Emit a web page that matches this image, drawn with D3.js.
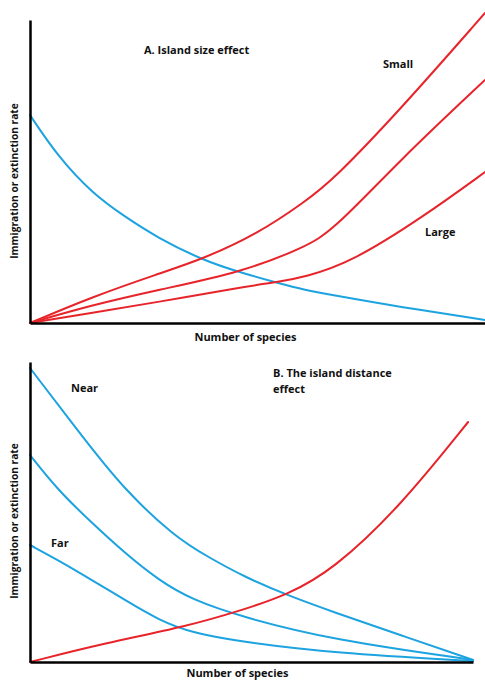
<!DOCTYPE html>
<html><head><meta charset="utf-8">
<script src="https://cdn.jsdelivr.net/npm/d3@7"></script>
<style>
body{margin:0;background:#fff;}
text{font-family:"Open Sans",sans-serif;font-weight:700;font-size:11px;fill:#111;}
text.yt{font-size:10.2px;}
</style></head>
<body><svg id="c" width="485" height="682"></svg>
<script>
// Panel A: island size effect (x: number of species 0-100, y: rate 0-100)
const aImmigration = [[0,68.6],[6.2,54.8],[13.6,42.9],[20.9,35],[28.1,28.1],[37.8,20.8],[46.6,16.5],[54.5,13.2],[60.4,10.9],[66.6,9.2],[81.3,5.3],[100,1]];
const aExtSmall = [[0,0],[13.6,8.6],[28.1,16.2],[37.8,21],[50.1,29.5],[60.4,40],[66.6,47.2],[81.3,70.3],[100,102.3]];
const aExtMid = [[0,0],[13.6,5.9],[28.1,10.9],[46.6,16.8],[60.4,25],[66.6,30.5],[81.3,53.8],[100,80.2]];
const aExtLarge = [[0,0],[13.6,3.3],[28.1,6.9],[46.6,11.9],[54.5,13.5],[60.4,15.2],[70.3,19.8],[86.4,35],[100,49.8]];
// Panel B: island distance effect
const bImmNear = [[0,98],[12.4,74],[21.4,57.3],[32.7,41.7],[40.2,35],[48.5,28.3],[58,22.3],[68.4,16.7],[83.5,9.0],[100,0.7]];
const bImmMid = [[0,69],[6.3,57.3],[14,46.3],[21.4,36.3],[29,27.3],[36.6,20.7],[47.9,15],[68.4,7.3],[100,0.7]];
const bImmFar = [[0,39],[6.3,34],[14,27.3],[21.4,20.7],[29,14],[36.6,9.7],[47.9,6.7],[68.4,3],[100,0.3]];
const bExtinction = [[0,0],[16.9,6.3],[35,11.7],[47.9,17.3],[58,22.3],[68.4,30.7],[83.5,51.7],[98.9,80]];

const xTitle = "Number of species";
const yTitle = "Immigration or extinction rate";

const RED = "#e8242b", BLUE = "#1ca3e0";
const svg = d3.select("#c");

function panel(cfg){
  const x = d3.scaleLinear().domain([0,100]).range(cfg.xr);
  const y = d3.scaleLinear().domain([0,100]).range(cfg.yr);
  const g = svg.append("g");
  const line = d3.line().x(d=>x(d[0])).y(d=>y(d[1])).curve(d3.curveBasis);
  cfg.series.forEach(s=>{
    g.append("path").attr("d",line(s.data)).attr("fill","none")
      .attr("stroke",s.color).attr("stroke-width",2).attr("stroke-linecap","round");
  });
  const ax = g.append("g").attr("transform",`translate(0,${cfg.yr[0]})`)
    .call(d3.axisBottom(x).ticks(0).tickSizeOuter(0));
  const ay = g.append("g").attr("transform",`translate(${cfg.xr[0]},0)`)
    .call(d3.axisLeft(y).ticks(0).tickSizeOuter(0));
  [ax,ay].forEach(a=>a.select(".domain").attr("stroke","#000").attr("stroke-width",2.5));
  g.append("text").attr("x",(cfg.xr[0]+cfg.xr[1])/2+cfg.xtdx).attr("y",cfg.yr[0]+cfg.xty)
    .attr("text-anchor","middle").text(xTitle);
  g.append("text").attr("class","yt").attr("transform",`translate(18,${cfg.ylc}) rotate(-90)`)
    .attr("text-anchor","middle").text(yTitle);
  cfg.labels.forEach(l=>{
    g.append("text").attr("x",l[1]).attr("y",l[2]).text(l[0]);
  });
}

panel({xr:[30,485], yr:[323,20], xtdx:-12, xty:18, ylc:181,
  series:[{data:aImmigration,color:BLUE},{data:aExtSmall,color:RED},{data:aExtMid,color:RED},{data:aExtLarge,color:RED}],
  labels:[["A. Island size effect",144,54],["Small",383,68],["Large",425,236]]});
panel({xr:[30,473], yr:[662,362], xtdx:-14, xty:15, ylc:521,
  series:[{data:bImmNear,color:BLUE},{data:bImmMid,color:BLUE},{data:bImmFar,color:BLUE},{data:bExtinction,color:RED}],
  labels:[["B. The island distance",273,377],["effect",273,393],["Near",71,392],["Far",51,547]]});
</script></body></html>
